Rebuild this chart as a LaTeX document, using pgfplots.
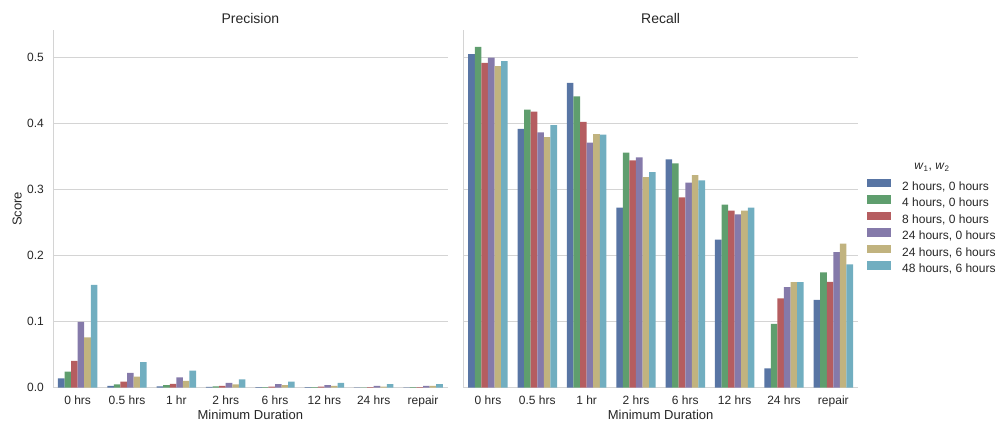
\documentclass[border=0pt]{standalone}
\usepackage{fontspec}
\setmainfont{Liberation Sans}
\usepackage{pgfplots}
\usepackage{pgfplotstable}
\pgfplotsset{compat=1.18}

\definecolor{c1}{HTML}{5875A4}
\definecolor{c2}{HTML}{5F9E6E}
\definecolor{c3}{HTML}{B55D60}
\definecolor{c4}{HTML}{857AAA}
\definecolor{c5}{HTML}{C1B37F}
\definecolor{c6}{HTML}{71AEC0}
\definecolor{gridc}{HTML}{D4D4D4}
\definecolor{txt}{HTML}{262626}

% x: 0=0 hrs,1=0.5 hrs,2=1 hr,3=2 hrs,4=6 hrs,5=12 hrs,6=24 hrs,7=repair
\pgfplotstableread{
x  a       b       c       d       e       f
0  0.0137  0.0240  0.0405  0.0994  0.0760  0.1556
1  0.0026  0.0046  0.0090  0.0223  0.0163  0.0386
2  0.0016  0.0036  0.0056  0.0152  0.0102  0.0254
3  0.0010  0.0016  0.0026  0.0071  0.0046  0.0122
4  0.0005  0.0005  0.0015  0.0050  0.0035  0.0090
5  0.0005  0.0005  0.0015  0.0035  0.0026  0.0070
6  0.0003  0.0003  0.0005  0.0025  0.0015  0.0050
7  0.0003  0.0005  0.0005  0.0025  0.0025  0.0050
}\precision

\pgfplotstableread{
x  a       b       c       d       e       f
0  0.5050  0.5160  0.4920  0.5000  0.4870  0.4945
1  0.3920  0.4210  0.4180  0.3866  0.3795  0.3977
2  0.4615  0.4413  0.4023  0.3710  0.3840  0.3830
3  0.2726  0.3560  0.3440  0.3486  0.3187  0.3263
4  0.3455  0.3395  0.2880  0.3106  0.3217  0.3140
5  0.2240  0.2770  0.2680  0.2625  0.2680  0.2726
6  0.0290  0.0963  0.1350  0.1520  0.1596  0.1596
7  0.1328  0.1743  0.1600  0.2050  0.2180  0.1865
}\recall

\pgfplotsset{
  panel/.style={
    scale only axis, width=394.7pt, height=357.5pt, anchor=south west,
    xmin=-0.5, xmax=7.5, ymin=0, ymax=0.5417,
    xtick={0,1,2,3,4,5,6,7},
    xticklabels={0 hrs,0.5 hrs,1 hr,2 hrs,6 hrs,12 hrs,24 hrs,repair},
    ytick={0,0.1,0.2,0.3,0.4,0.5},
    ymajorgrids, grid style={gridc, line width=0.9pt},
    axis x line*=bottom, axis y line*=left,
    axis line style={gridc, line width=0.9pt, -},
    major tick length=0pt, tick style={draw=none},
    ticklabel style={font=\fontsize{12}{14}\selectfont, text=txt},
    xticklabel style={inner sep=0pt, anchor=north, yshift=-8pt},
    yticklabel style={inner sep=0pt, anchor=east, xshift=-9pt},
    /pgf/number format/fixed,
    /pgf/number format/fixed zerofill,
    /pgf/number format/precision=1,
    /pgf/number format/assume math mode=true,
    every axis title/.style={at={([yshift=6pt]axis description cs:0.5,1)}, anchor=base, font=\fontsize{14}{16}\selectfont, text=txt, inner sep=0pt},
    every axis x label/.style={at={([yshift=-22pt]axis description cs:0.5,0)}, anchor=north, font=\fontsize{13}{15}\selectfont, text=txt, inner sep=0pt},
    every axis y label/.style={at={([xshift=-31pt]axis description cs:0,0.5)}, rotate=90, anchor=south, font=\fontsize{13}{15}\selectfont, text=txt, inner sep=0pt},
    xlabel={Minimum Duration},
  },
  bb/.style n args={2}{ybar, bar width=0.1333, bar shift=#1, fill=#2, draw=none},
}

\begin{document}
\begin{tikzpicture}
\path[use as bounding box] (0,0) rectangle (998pt,423pt);

\begin{axis}[panel, at={(53pt,35.5pt)}, title={Precision}, ylabel={Score}]
\addplot[bb={-0.3333}{c1}] table[x=x,y=a]{\precision};
\addplot[bb={-0.2}{c2}] table[x=x,y=b]{\precision};
\addplot[bb={-0.0667}{c3}] table[x=x,y=c]{\precision};
\addplot[bb={0.0667}{c4}] table[x=x,y=d]{\precision};
\addplot[bb={0.2}{c5}] table[x=x,y=e]{\precision};
\addplot[bb={0.3333}{c6}] table[x=x,y=f]{\precision};
\end{axis}

\begin{axis}[panel, at={(463.3pt,35.5pt)}, title={Recall}, yticklabels={}, clip=false,
  legend style={at={(axis description cs:1.0228,0.585)}, anchor=north west,
    draw=none, fill=none, inner sep=0pt, row sep=2pt,
    font=\fontsize{12}{14}\selectfont, text=txt,
    nodes={inner sep=0pt, text height=9pt, text depth=3pt},
    /tikz/every odd column/.append style={column sep=11pt}},
  legend cell align=left,
  legend image code/.code={\fill[#1] (0pt,0pt) rectangle (24pt,8.5pt);},
]
\addplot[bb={-0.3333}{c1}] table[x=x,y=a]{\recall};
\addplot[bb={-0.2}{c2}] table[x=x,y=b]{\recall};
\addplot[bb={-0.0667}{c3}] table[x=x,y=c]{\recall};
\addplot[bb={0.0667}{c4}] table[x=x,y=d]{\recall};
\addplot[bb={0.2}{c5}] table[x=x,y=e]{\recall};
\addplot[bb={0.3333}{c6}] table[x=x,y=f]{\recall};
\legend{{2 hours, 0 hours}, {4 hours, 0 hours}, {8 hours, 0 hours}, {24 hours, 0 hours}, {24 hours, 6 hours}, {48 hours, 6 hours}}
\node[anchor=base, font=\fontsize{12}{14}\selectfont, text=txt] at (axis description cs:1.1875,0.61) {\textit{w}\textsubscript{1}, \textit{w}\textsubscript{2}};
\end{axis}
\end{tikzpicture}
\end{document}
